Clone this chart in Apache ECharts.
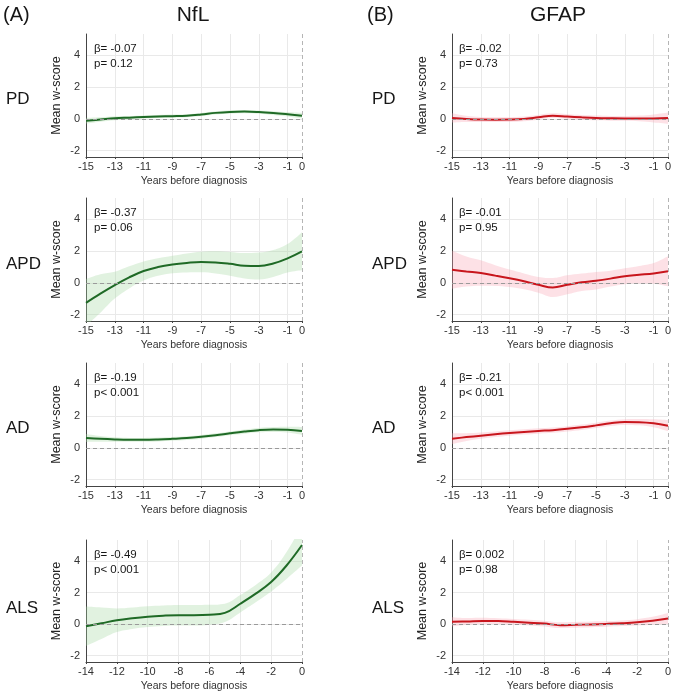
<!DOCTYPE html>
<html>
<head>
<meta charset="utf-8">
<script src="https://cdn.jsdelivr.net/npm/echarts@6/dist/echarts.min.js"></script>
<style>
  html, body { margin: 0; padding: 0; background: #fff; }
  #chart { width: 676px; height: 693px; }
</style>
</head>
<body>
<div id="chart"></div>
<script>
// years before diagnosis
var yearsLong = [-15, -14, -13, -12, -11, -10, -9, -8, -7, -6, -5, -4, -3, -2, -1, 0];
var yearsALS = [-14, -13, -12, -11, -10, -9, -8, -7, -6, -5, -4, -3, -2, -1, 0];
var yTicks = [-2, 0, 2, 4];

// NfL
var nflPD = [-0.12, -0.04, 0.04, 0.08, 0.12, 0.15, 0.17, 0.2, 0.28, 0.38, 0.44, 0.46, 0.43, 0.37, 0.29, 0.2];
var nflPDLow = [-0.30, -0.18, -0.08, -0.02, 0.02, 0.05, 0.07, 0.10, 0.18, 0.28, 0.34, 0.36, 0.33, 0.25, 0.15, 0.02];
var nflPDHigh = [0.06, 0.10, 0.16, 0.18, 0.22, 0.25, 0.27, 0.30, 0.38, 0.48, 0.54, 0.56, 0.53, 0.49, 0.43, 0.38];

var nflAPD = [-1.26, -0.68, -0.14, 0.35, 0.75, 1.0, 1.16, 1.26, 1.32, 1.29, 1.2, 1.08, 1.06, 1.22, 1.55, 1.99];
var nflAPDLow = [-2.71, -1.88, -0.99, -0.35, 0.15, 0.45, 0.61, 0.66, 0.67, 0.59, 0.45, 0.28, 0.21, 0.37, 0.65, 0.79];
var nflAPDHigh = [0.25, 0.55, 0.71, 1.05, 1.35, 1.55, 1.71, 1.86, 1.97, 1.99, 1.95, 1.88, 1.91, 2.07, 2.45, 3.19];

var nflAD = [0.63, 0.57, 0.53, 0.51, 0.51, 0.53, 0.57, 0.62, 0.7, 0.8, 0.92, 1.03, 1.12, 1.16, 1.15, 1.07];
var nflADLow = [0.38, 0.39, 0.39, 0.39, 0.39, 0.41, 0.45, 0.50, 0.58, 0.68, 0.80, 0.90, 0.98, 1.01, 0.97, 0.82];
var nflADHigh = [0.88, 0.75, 0.67, 0.63, 0.63, 0.65, 0.69, 0.74, 0.82, 0.92, 1.04, 1.16, 1.26, 1.31, 1.33, 1.32];

var nflALS = [-0.13, 0.06, 0.25, 0.38, 0.48, 0.54, 0.57, 0.57, 0.6, 0.72, 1.3, 1.94, 2.68, 3.73, 5.03];
var nflALSLow = [-1.38, -0.94, -0.5, -0.3, -0.18, -0.11, -0.08, -0.08, -0.03, 0.14, 0.75, 1.39, 2.08, 2.88, 3.73];
var nflALSHigh = [1.12, 1.06, 1.0, 1.06, 1.14, 1.19, 1.22, 1.22, 1.23, 1.3, 1.85, 2.49, 3.28, 4.58, 6.33];

// GFAP
var gfapPD = [0.06, 0.0, -0.04, -0.05, -0.04, 0.0, 0.1, 0.2, 0.15, 0.1, 0.06, 0.04, 0.03, 0.03, 0.03, 0.05];
var gfapPDLow = [-0.24, -0.2, -0.2, -0.2, -0.19, -0.15, -0.05, 0.05, 0.0, -0.05, -0.09, -0.11, -0.12, -0.15, -0.22, -0.3];
var gfapPDHigh = [0.36, 0.2, 0.12, 0.1, 0.11, 0.15, 0.25, 0.35, 0.3, 0.25, 0.21, 0.19, 0.18, 0.21, 0.28, 0.4];

var gfapAPD = [0.83, 0.72, 0.62, 0.46, 0.29, 0.1, -0.12, -0.29, -0.12, 0.04, 0.14, 0.27, 0.42, 0.51, 0.6, 0.73];
var gfapAPDLow = [-0.37, -0.23, -0.18, -0.19, -0.26, -0.4, -0.62, -0.89, -0.72, -0.51, -0.41, -0.23, -0.08, -0.04, -0.05, -0.22];
var gfapAPDHigh = [2.03, 1.67, 1.42, 1.11, 0.84, 0.6, 0.38, 0.31, 0.48, 0.59, 0.69, 0.77, 0.92, 1.06, 1.25, 1.68];

var gfapAD = [0.58, 0.68, 0.77, 0.86, 0.94, 1.01, 1.07, 1.12, 1.2, 1.3, 1.42, 1.55, 1.63, 1.62, 1.55, 1.4];
var gfapADLow = [0.23, 0.43, 0.57, 0.68, 0.77, 0.84, 0.9, 0.95, 1.03, 1.13, 1.25, 1.38, 1.45, 1.42, 1.3, 1.05];
var gfapADHigh = [0.93, 0.93, 0.97, 1.04, 1.11, 1.18, 1.24, 1.29, 1.37, 1.47, 1.59, 1.72, 1.81, 1.82, 1.8, 1.75];

var gfapALS = [0.15, 0.18, 0.21, 0.2, 0.15, 0.1, 0.04, -0.06, -0.04, -0.01, 0.02, 0.06, 0.12, 0.22, 0.36];
var gfapALSLow = [-0.15, -0.04, 0.01, 0.02, -0.03, -0.08, -0.14, -0.24, -0.22, -0.19, -0.16, -0.12, -0.08, -0.03, 0.01];
var gfapALSHigh = [0.45, 0.4, 0.41, 0.38, 0.33, 0.28, 0.22, 0.12, 0.14, 0.17, 0.2, 0.24, 0.32, 0.47, 0.71];

var groups = ['PD', 'APD', 'AD', 'ALS'];
var betas = [['β= -0.07', 'β= -0.37', 'β= -0.19', 'β= -0.49'], ['β= -0.02', 'β= -0.01', 'β= -0.21', 'β= 0.002']];
var pvals = [['p= 0.12', 'p= 0.06', 'p< 0.001', 'p< 0.001'], ['p= 0.73', 'p= 0.95', 'p< 0.001', 'p= 0.98']];

var panels = [
  [ {x: yearsLong, m: nflPD, lo: nflPDLow, hi: nflPDHigh},
    {x: yearsLong, m: nflAPD, lo: nflAPDLow, hi: nflAPDHigh},
    {x: yearsLong, m: nflAD, lo: nflADLow, hi: nflADHigh},
    {x: yearsALS, m: nflALS, lo: nflALSLow, hi: nflALSHigh} ],
  [ {x: yearsLong, m: gfapPD, lo: gfapPDLow, hi: gfapPDHigh},
    {x: yearsLong, m: gfapAPD, lo: gfapAPDLow, hi: gfapAPDHigh},
    {x: yearsLong, m: gfapAD, lo: gfapADLow, hi: gfapADHigh},
    {x: yearsALS, m: gfapALS, lo: gfapALSLow, hi: gfapALSHigh} ]
];

var colLeft = [86, 452];
var rowTop = [34, 198, 363, 540];
var gridW = 216, gridH = 123;
var yMin = -2.4, yMax = 5.35, yStep = 0.4;
var lineColor = ['#1f6a26', '#c8161d'];
var bandColor = ['rgba(165,215,160,0.33)', 'rgba(248,165,180,0.33)'];
var gridColor = '#e9e9e9';
var clear = 'rgba(0,0,0,0)';
var font = 'Liberation Sans, Arial, sans-serif';

// horizontal grid only at the labelled values
var ySplit = [];
for (var k = 0; yMin + k * yStep <= yMax + 1e-9; k++) {
  var yv = Math.round((yMin + k * yStep) * 10) / 10;
  ySplit.push(k > 0 && yTicks.indexOf(yv) >= 0 ? gridColor : clear);
}

var myChart = echarts.init(document.getElementById('chart'));
var grids = [], xAxes = [], yAxes = [], series = [], graphic = [];

function txt(x, y, text, size, align) {
  return {type: 'text', x: x, y: y, z: 100, zlevel: 1, silent: true,
    style: {text: text, font: size + 'px ' + font, fill: '#161616',
      align: align, verticalAlign: 'middle', textAlign: align, textVerticalAlign: 'middle'}};
}

for (var c = 0; c < 2; c++) {
  for (var r = 0; r < 4; r++) {
    var idx = grids.length;
    var p = panels[c][r];
    var isALS = r === 3;
    // which years get a label and a grid line
    var shown = (function (als) {
      return function (i, v) {
        var n = Number(v);
        return als ? n % 2 === 0 : (Math.abs(n) % 2 === 1 || n === 0);
      };
    })(isALS);
    var gridShown = (function (f) {
      return function (i, v) { return Number(v) !== 0 && f(i, v); };
    })(shown);
    grids.push({left: colLeft[c], top: rowTop[r], width: gridW, height: gridH});
    xAxes.push({
      type: 'category', gridIndex: idx, boundaryGap: false,
      data: p.x.map(String),
      name: 'Years before diagnosis', nameLocation: 'middle', nameGap: 19,
      nameTextStyle: {fontFamily: font, fontSize: 10.5, color: '#333'},
      axisLine: {show: true, onZero: false, lineStyle: {color: '#444', width: 1}},
      axisTick: {show: true, length: 2, interval: shown, lineStyle: {color: '#444'}},
      axisLabel: {fontFamily: font, fontSize: 11, color: '#333', margin: 4, interval: shown},
      splitLine: {show: true, interval: gridShown, lineStyle: {color: gridColor, width: 1}}
    });
    yAxes.push({
      type: 'value', gridIndex: idx, min: yMin, max: yMax, interval: yStep,
      name: 'Mean w-score', nameLocation: 'middle', nameGap: 23,
      nameTextStyle: {fontFamily: font, fontSize: 12.5, color: '#222'},
      axisLine: {show: true, lineStyle: {color: '#444', width: 1}},
      axisTick: {show: false},
      axisLabel: {
        fontFamily: font, fontSize: 11, color: '#333', margin: 6,
        formatter: function (v) {
          var q = Math.round(v * 10) / 10;
          return yTicks.indexOf(q) >= 0 ? String(q) : '';
        }
      },
      splitLine: {show: true, lineStyle: {color: ySplit, width: 1}}
    });
    var stackId = 'band' + idx;
    series.push({
      type: 'line', xAxisIndex: idx, yAxisIndex: idx, stack: stackId, stackStrategy: 'all',
      data: p.lo, symbol: 'none', smooth: 0.4, silent: true,
      lineStyle: {opacity: 0}, z: 1
    });
    series.push({
      type: 'line', xAxisIndex: idx, yAxisIndex: idx, stack: stackId, stackStrategy: 'all',
      data: p.hi.map(function (h, i) { return +(h - p.lo[i]).toFixed(3); }),
      symbol: 'none', smooth: 0.4, silent: true,
      lineStyle: {opacity: 0}, areaStyle: {color: bandColor[c], opacity: 1}, z: 1
    });
    series.push({
      type: 'line', xAxisIndex: idx, yAxisIndex: idx, data: p.m,
      symbol: 'none', smooth: 0.4, z: 3,
      lineStyle: {color: lineColor[c], width: 2},
      markLine: {
        silent: true, symbol: ['none', 'none'], label: {show: false},
        data: [
          {yAxis: 0, lineStyle: {color: '#9a9a9a', type: [4, 3], width: 1}},
          {xAxis: '0', lineStyle: {color: '#b5b5b5', type: [4, 3], width: 1}}
        ]
      }
    });
    var tx = colLeft[c] + (c === 0 ? 8 : 7);
    graphic.push(txt(tx, rowTop[r] + 15, betas[c][r], 11.5, 'left'));
    graphic.push(txt(tx, rowTop[r] + 29.5, pvals[c][r], 11.5, 'left'));
  }
}

// group labels on the left of each row
var rowLabelY = [99, 264, 428, 608];
for (var c2 = 0; c2 < 2; c2++) {
  for (var r2 = 0; r2 < 4; r2++) {
    graphic.push(txt(c2 === 0 ? 6 : 372, rowLabelY[r2], groups[r2], 17, 'left'));
  }
}
// panel headings
graphic.push(txt(3, 15, '(A)', 20, 'left'));
graphic.push(txt(367, 15, '(B)', 20, 'left'));
graphic.push(txt(193, 15, 'NfL', 21, 'center'));
graphic.push(txt(558, 15, 'GFAP', 21, 'center'));

var option = {
  animation: false,
  grid: grids,
  xAxis: xAxes,
  yAxis: yAxes,
  series: series,
  graphic: graphic
};
myChart.setOption(option);
</script>
</body>
</html>
